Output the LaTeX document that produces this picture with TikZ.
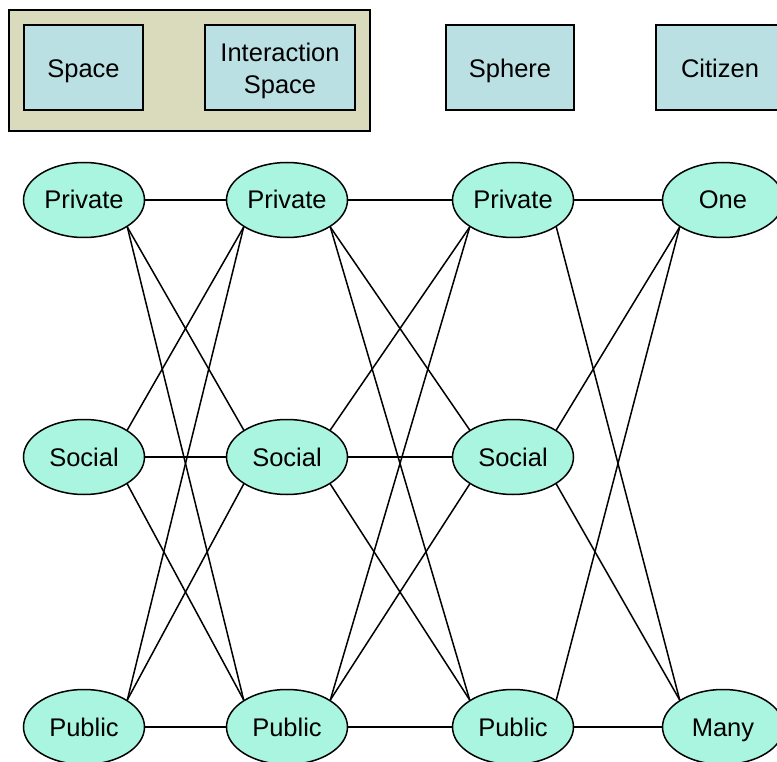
\documentclass[tikz,border=0pt]{standalone}
\usepackage{fontspec}
\setmainfont{Liberation Sans}
\usetikzlibrary{shapes.geometric}
\definecolor{tanfill}{HTML}{DADBBD}
\definecolor{boxfill}{HTML}{BAE0E3}
\definecolor{nodefill}{HTML}{A9F5E0}
\tikzset{
  group/.style={draw,line width=1.5pt,fill=tanfill,minimum width=361pt,minimum height=121pt,inner sep=0pt},
  kind/.style={draw,line width=1.5pt,fill=boxfill,minimum height=85pt,inner sep=0pt,align=center,
    text height=21pt,text depth=0pt,font=\fontsize{25.5}{32}\selectfont},
  state/.style={draw,ellipse,line width=1.5pt,fill=nodefill,minimum width=121pt,minimum height=75pt,
    inner sep=0pt,text height=18pt,text depth=0pt,font=\fontsize{25.5}{30}\selectfont}
}
\begin{document}
\begin{tikzpicture}[x=1pt,y=-1pt]
      \useasboundingbox (0,0) rectangle (777,762);
      \draw
        (189.5,70.5) node[group] (g){}
        (83.5,67.5) node[kind,minimum width=119pt] (a){Space}
        (280,67.5) node[kind,minimum width=150pt,text height=53pt] (b){Interaction\\Space}
        (510,67.5) node[kind,minimum width=128pt] (c){Sphere}
        (720,67.5) node[kind,minimum width=128pt] (d){Citizen};
      \draw
        (84,200) node[state] (0){Private}
        (84,457) node[state] (1){Social}
        (84,727) node[state] (2){Public}
        (287,200) node[state] (3){Private}
        (287,457) node[state] (4){Social}
        (287,727) node[state] (5){Public}
        (513,200) node[state] (6){Private}
        (513,457) node[state] (7){Social}
        (513,727) node[state] (8){Public}
        (723,200) node[state] (9){One}
        (723,727) node[state] (10){Many};
      \begin{scope}[-,line width=1.5pt]
        \draw (0) to (3);
        \draw (0.south east) to (4.north west);
        \draw (0.south east) to (5.north west);
        \draw (1.north east) to (3.south west);
        \draw (1) to (4);
        \draw (1.south east) to (5.north west);
        \draw (2.north east) to (3.south west);
        \draw (2.north east) to (4.south west);
        \draw (2) to (5);
        \draw (3) to (6);
        \draw (3.south east) to (7.north west);
        \draw (3.south east) to (8.north west);
        \draw (4.north east) to (6.south west);
        \draw (4) to (7);
        \draw (4.south east) to (8.north west);
        \draw (5.north east) to (6.south west);
        \draw (5.north east) to (7.south west);
        \draw (5) to (8);
        \draw (6) to (9);
        \draw (6.south east) to (10.north west);
        \draw (7.north east) to (9.south west);
        \draw (7.south east) to (10.north west);
        \draw (8.north east) to (9.south west);
        \draw (8) to (10);
      \end{scope}
    \end{tikzpicture}
\end{document}
